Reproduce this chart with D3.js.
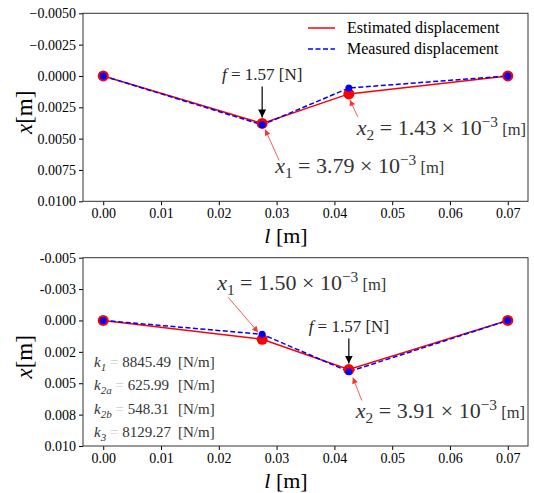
<!DOCTYPE html>
<html>
<head>
<meta charset="utf-8">
<script src="https://cdn.jsdelivr.net/npm/d3@7"></script>
<style>
  body { margin: 0; background: #fff; }
</style>
</head>
<body>
<div id="chart"></div>
<script>
const SERIF = '"Liberation Serif"';

// positions along the beam [m]
const positions = [0, 0.0275, 0.0425, 0.07];

// top panel: load at first point
const topEstimated = [0, 0.00379, 0.00143, 0];
const topMeasured = [0, 0.00390, 0.00096, 0];
// bottom panel: load at second point
const botEstimated = [0, 0.00150, 0.00391, 0];
const botMeasured = [0, 0.00110, 0.00408, 0];

const xTicks = [0, 0.01, 0.02, 0.03, 0.04, 0.05, 0.06, 0.07];
const xTickLabels = ["0.00", "0.01", "0.02", "0.03", "0.04", "0.05", "0.06", "0.07"];
const yTicks = [-0.005, -0.0025, 0, 0.0025, 0.005, 0.0075, 0.01];
const topYLabels = ["\u22120.0050", "\u22120.0025", "0.0000", "0.0025", "0.0050", "0.0075", "0.0100"];
const botYLabels = ["-0.005", "-0.003", "0.000", "0.002", "0.005", "0.008", "0.010"];

const stiffnessNames = [["k", "1"], ["k", "2a"], ["k", "2b"], ["k", "3"]];
const stiffnessValues = ["8845.49", "625.99", "548.31", "8129.27"];

const legendLabels = ["Estimated displacement", "Measured displacement"];

const W = 534, H = 493;
const svg = d3.select("#chart").append("svg")
  .attr("width", W).attr("height", H)
  .style("font-family", SERIF);

const defs = svg.append("defs");
function marker(id, color, w, h) {
  defs.append("marker")
    .attr("id", id)
    .attr("viewBox", "0 -5 10 10")
    .attr("refX", 10).attr("refY", 0)
    .attr("markerWidth", w).attr("markerHeight", h)
    .attr("markerUnits", "userSpaceOnUse")
    .attr("orient", "auto")
    .append("path")
    .attr("d", "M0,-5L10,0L0,5Z")
    .style("fill", color);
}
marker("arrow-black", "#000", 8, 8);
marker("arrow-red", "#ff3030", 7, 6);

const x = d3.scaleLinear().domain([-0.0035, 0.0735]).range([83, 528]);

function txt(g, px, py, size) {
  return g.append("text").attr("x", px).attr("y", py)
    .style("font-family", SERIF).style("font-size", size + "px");
}

function mathLabel(g, px, py, sub, value, size) {
  const t = txt(g, px, py, size).style("fill", "#333");
  t.append("tspan").style("font-style", "italic").text("x");
  t.append("tspan").attr("dy", 5).style("font-size", (size * 0.7) + "px").text(sub);
  t.append("tspan").attr("dy", -5).text(" = " + value + " \u00d7 10");
  t.append("tspan").attr("dy", -8).style("font-size", (size * 0.7) + "px").text("\u22123");
  t.append("tspan").attr("dy", 8).style("font-size", (size * 0.75) + "px").text(" [m]");
}

function forceLabel(g, cx, py) {
  const t = txt(g, cx, py, 17).attr("text-anchor", "middle").style("fill", "#222");
  t.append("tspan").style("font-style", "italic").text("f");
  t.append("tspan").text(" = 1.57 [N]");
}

function arrow(g, x1, y1, x2, y2, color, id, w) {
  g.append("line")
    .attr("x1", x1).attr("y1", y1).attr("x2", x2).attr("y2", y2)
    .attr("stroke", color).attr("stroke-width", w)
    .attr("marker-end", `url(#${id})`);
}

function panel(top, bottom, yLabels, est, meas) {
  const g = svg.append("g");
  const y = d3.scaleLinear().domain([-0.005, 0.01]).range([top, bottom]);

  g.append("g")
    .attr("transform", `translate(0,${bottom})`)
    .call(d3.axisBottom(x).tickValues(xTicks).tickFormat((d, i) => xTickLabels[i]).tickSize(4).tickSizeOuter(0))
    .call(a => a.attr("font-family", SERIF).select(".domain").remove())
    .selectAll("text")
    .style("font-size", "14px").style("font-family", SERIF);

  g.append("g")
    .attr("transform", `translate(83,0)`)
    .call(d3.axisLeft(y).tickValues(yTicks).tickFormat((d, i) => yLabels[i]).tickSize(4).tickSizeOuter(0))
    .call(a => a.attr("font-family", SERIF).select(".domain").remove())
    .selectAll("text")
    .style("font-size", "14px").style("font-family", SERIF);

  g.append("rect")
    .attr("x", 83).attr("y", top).attr("width", 528 - 83).attr("height", bottom - top)
    .attr("fill", "none").attr("stroke", "#333").attr("stroke-width", 1);

  const line = d3.line().x((d, i) => x(positions[i])).y(d => y(d));

  g.append("path").datum(est)
    .attr("d", line).attr("fill", "none")
    .attr("stroke", "#ff0000").attr("stroke-width", 1.5);
  g.append("path").datum(meas)
    .attr("d", line).attr("fill", "none")
    .attr("stroke", "#0000ff").attr("stroke-width", 1.5)
    .attr("stroke-dasharray", "5,2.5");

  g.selectAll("circle.est").data(est).enter().append("circle")
    .attr("class", "est")
    .attr("cx", (d, i) => x(positions[i])).attr("cy", d => y(d))
    .attr("r", 5.5).attr("fill", "#ff0000");
  g.selectAll("circle.meas").data(meas).enter().append("circle")
    .attr("class", "meas")
    .attr("cx", (d, i) => x(positions[i])).attr("cy", d => y(d))
    .attr("r", 3.5).attr("fill", "#0000ff");

  // axis titles
  const yl = g.append("text")
    .attr("transform", `translate(32,${(top + bottom) / 2 + 5}) rotate(-90)`)
    .attr("text-anchor", "middle")
    .style("font-family", SERIF).style("font-size", "23px");
  yl.append("tspan").style("font-style", "italic").text("x");
  yl.append("tspan").text("[m]");

  const xl = txt(g, 286, bottom + 42, 22).attr("text-anchor", "middle");
  xl.append("tspan").style("font-style", "italic").text("l");
  xl.append("tspan").text(" [m]");

  return { g, y };
}

// top panel
const p1 = panel(13.3, 201.3, topYLabels, topEstimated, topMeasured);
{
  const g = p1.g, y = p1.y;
  const px1 = x(positions[1]), py1 = y(topEstimated[1]);
  forceLabel(g, px1, py1 - 43);
  arrow(g, px1, py1 - 37, px1, py1 - 6, "#000", "arrow-black", 1.2);
  arrow(g, px1 + 17, py1 + 37, px1 + 3, py1 + 6, "#ff3030", "arrow-red", 0.8);
  mathLabel(g, px1 + 13, py1 + 50, "1", "3.79", 22);

  const px2 = x(positions[2]), py2 = y(topEstimated[2]);
  arrow(g, px2 + 9, py2 + 23, px2 + 1, py2 + 6, "#ff3030", "arrow-red", 0.8);
  mathLabel(g, px2 + 8, py2 + 41, "2", "1.43", 22);

  // legend
  legendLabels.forEach((lab, i) => {
    const ly = 28 + i * 21;
    g.append("line").attr("x1", 308).attr("x2", 335).attr("y1", ly).attr("y2", ly)
      .attr("stroke", i === 0 ? "#ff0000" : "#0000ff").attr("stroke-width", 1.5)
      .attr("stroke-dasharray", i === 0 ? null : "5,2.5");
    txt(g, 347, ly + 5, 16).text(lab);
  });
}

// bottom panel
const p2 = panel(257.7, 446, botYLabels, botEstimated, botMeasured);
{
  const g = p2.g, y = p2.y;
  const px1 = x(positions[1]), py1 = y(botEstimated[1]);
  arrow(g, px1 - 34, py1 - 42, px1 - 4, py1 - 7, "#ff3030", "arrow-red", 0.8);
  mathLabel(g, px1 - 45, py1 - 49, "1", "1.50", 22);

  const px2 = x(positions[2]), py2 = y(botEstimated[2]);
  forceLabel(g, px2, py2 - 38);
  arrow(g, px2, py2 - 31, px2, py2 - 6, "#000", "arrow-black", 1.2);
  arrow(g, px2 + 13, py2 + 31, px2 + 4, py2 + 8, "#ff3030", "arrow-red", 0.8);
  mathLabel(g, px2 + 7, py2 + 48, "2", "3.91", 22);

  stiffnessNames.forEach((k, i) => {
    const ty = 367 + i * 23.3;
    const t = txt(g, 94, ty, 15).style("fill", "#333");
    t.append("tspan").style("font-style", "italic").text(k[0]);
    t.append("tspan").attr("dy", 4).style("font-size", "11px").style("font-style", "italic").text(k[1]);
    t.append("tspan").attr("dy", -4).style("fill", "#ccc").text(k[1].length > 1 ? " = " : "  = ");
    t.append("tspan").text(stiffnessValues[i]);
    txt(g, 178, ty, 15).style("fill", "#333").text("[N/m]");
  });
}
</script>
</body>
</html>
